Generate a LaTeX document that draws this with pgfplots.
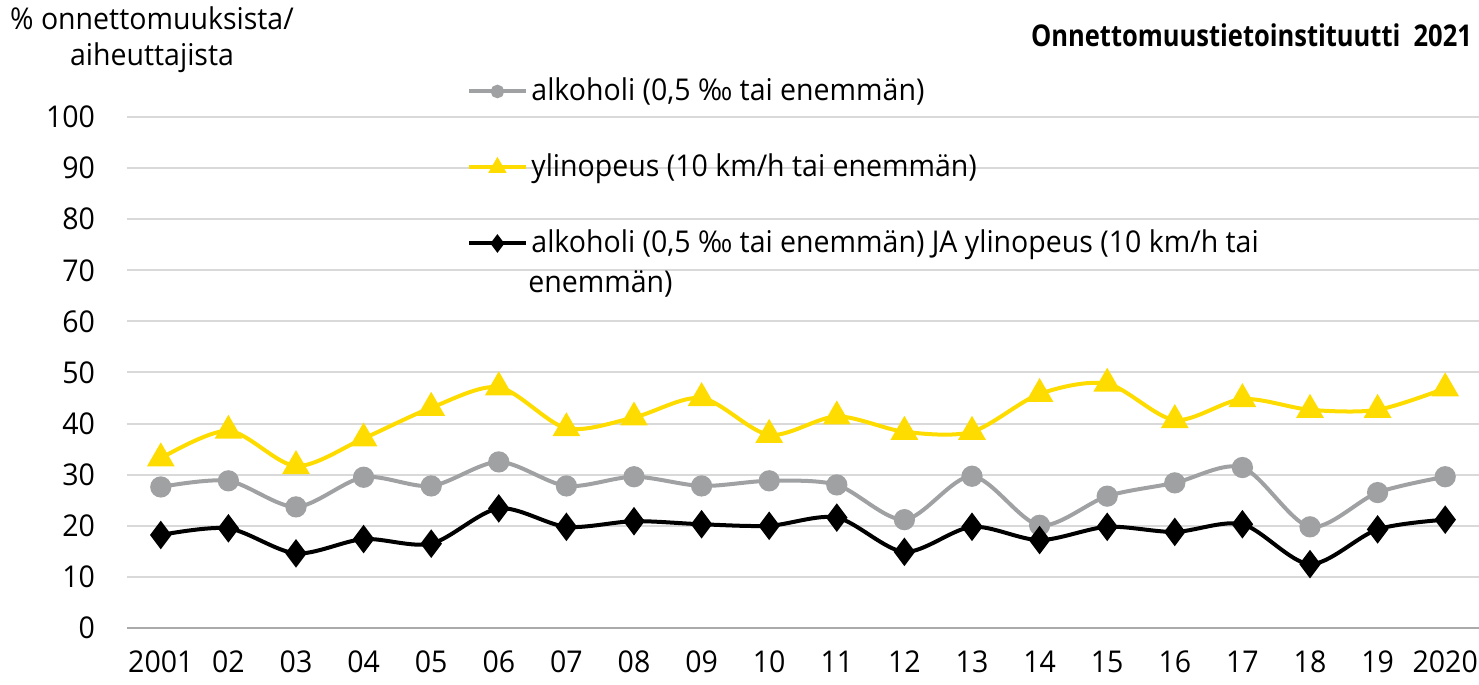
\documentclass[border=0pt]{standalone}
\usepackage{fontspec}
\setmainfont{Open Sans}[FakeStretch=0.95]
\newfontfamily\titlefont{Open Sans}[FakeStretch=0.85]
\usepackage{pgfplots}
\pgfplotsset{compat=1.18}

\definecolor{alkgray}{RGB}{160,161,163}
\definecolor{ylyellow}{RGB}{255,220,0}
\definecolor{gridgray}{RGB}{217,217,217}
\definecolor{basegray}{RGB}{170,170,170}

% x: 0 = 2001 ... 19 = 2020
\pgfplotstableread{
x  alk   yli   both
0  27.6  33.2  18.2
1  28.8  38.6  19.5
2  23.7  31.7  14.6
3  29.5  37.1  17.4
4  27.8  43.1  16.5
5  32.5  47.1  23.4
6  27.8  39.1  19.8
7  29.6  41.2  20.9
8  27.8  45.0  20.3
9  28.8  37.8  20.0
10 28.0  41.4  21.6
11 21.2  38.4  14.9
12 29.7  38.4  19.8
13 20.1  45.8  17.2
14 25.8  47.8  19.8
15 28.4  40.7  18.8
16 31.4  44.8  20.3
17 19.8  42.7  12.5
18 26.5  42.7  19.3
19 29.6  46.9  21.2
}\datatable

\begin{document}
\begin{tikzpicture}
\begin{axis}[
  scale only axis,
  width=676pt, height=255.5pt,
  xmin=-0.5, xmax=19.5,
  ymin=0, ymax=100,
  xtick={0,...,19},
  xticklabels={2001,02,03,04,05,06,07,08,09,10,11,12,13,14,15,16,17,18,19,2020},
  ytick={0,10,...,100},
  ymajorgrids,
  grid style={gridgray, line width=1pt},
  extra y ticks={0},
  extra y tick labels={},
  extra y tick style={grid style={basegray, line width=1.3pt}},
  axis line style={draw=none},
  major tick length=0pt,
  /pgf/number format/assume math mode=true,
  tick label style={font=\fontsize{15}{17}\selectfont, black},
  yticklabel style={xshift=-12.5pt},
  xticklabel style={yshift=-8pt},
  clip=false,
  legend image code/.code={
    \draw[mark repeat=2, mark phase=2]
      plot coordinates {(0pt,0pt) (14pt,0pt) (28pt,0pt)};},
  legend image post style={every mark/.append style={scale=0.55}},
  legend style={draw=none, fill=none,
    at={(rel axis cs:0.2515,1.083)}, anchor=north west,
    font=\fontsize{15}{18}\selectfont,
    row sep=21.5pt,
    cells={anchor=west, text height=11pt, text depth=4pt},
    inner sep=0pt},
]
\addplot[alkgray, line width=2pt, smooth, mark=*, mark size=4.3pt]
  table[x=x, y=alk]{\datatable};
\addlegendentry{alkoholi (0,5 ‰ tai enemmän)}
\addplot[ylyellow, line width=2pt, smooth, mark=triangle*, mark size=6pt]
  table[x=x, y=yli]{\datatable};
\addlegendentry{ylinopeus (10 km/h tai enemmän)}
\addplot[black, line width=2pt, smooth, mark=diamond*, mark size=5.5pt]
  table[x=x, y=both]{\datatable};
\addlegendentry{alkoholi (0,5 ‰ tai enemmän) JA ylinopeus (10 km/h tai}

% second line of the third legend entry
\node[anchor=west, inner sep=0pt, font=\fontsize{15}{18}\selectfont]
  at (rel axis cs:0.2966,0.673) {enemmän)};
\node[align=center, font=\fontsize{15}{18}\selectfont, anchor=center]
  at (rel axis cs:0.0185,1.151) {\% onnettomuuksista/\\aiheuttajista};
\node[anchor=east, font=\fontsize{15}{17}\selectfont\titlefont\bfseries]
  at (rel axis cs:1.0,1.160) {Onnettomuustietoinstituutti\ \ 2021};
\end{axis}
\pgfresetboundingbox
\path[use as bounding box]
  ([shift={(-63.5pt,-28.5pt)}]current axis.south west)
  rectangle ([shift={(0pt,58.5pt)}]current axis.north east);
\end{tikzpicture}
\end{document}
